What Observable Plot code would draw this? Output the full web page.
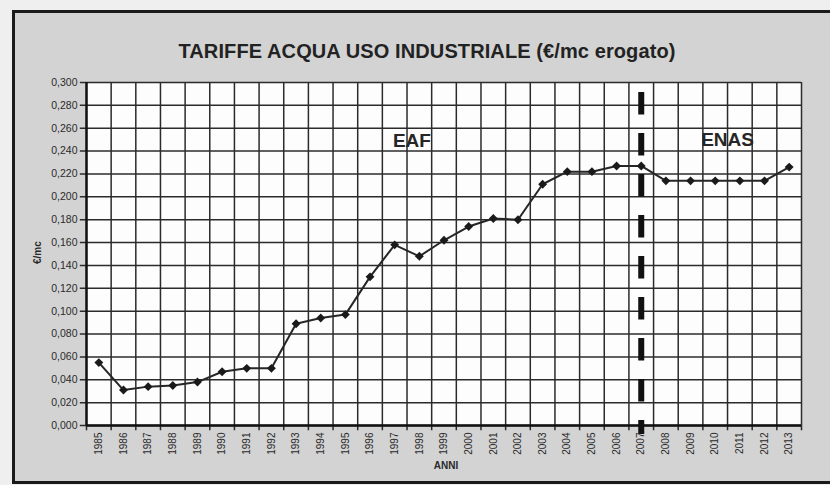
<!DOCTYPE html>
<html><head><meta charset="utf-8">
<script src="https://cdn.jsdelivr.net/npm/d3@7"></script>
<script src="https://cdn.jsdelivr.net/npm/@observablehq/plot@0.6"></script>
<style>
html,body{margin:0;padding:0;background:#efefef;width:830px;height:485px;overflow:hidden;}
#box{position:absolute;left:12px;top:10px;width:824px;height:468px;border:3px solid #1a1a1a;border-right:none;background:#d3d3d3;font-family:"Liberation Sans",Arial,sans-serif;}
#title{height:29px;padding-top:28px;text-align:center;font-size:20px;font-weight:bold;color:#222;line-height:20px;letter-spacing:0.1px;}
#chart svg{display:block;}
</style>
</head><body>
<div id="box"><div id="title">TARIFFE ACQUA USO INDUSTRIALE (€/mc erogato)</div><div id="chart"></div></div>
<script>
const years = [1985,1986,1987,1988,1989,1990,1991,1992,1993,1994,1995,1996,1997,1998,1999,2000,2001,2002,2003,2004,2005,2006,2007,2008,2009,2010,2011,2012,2013];
const values = [0.055,0.031,0.034,0.035,0.038,0.047,0.050,0.050,0.089,0.094,0.097,0.130,0.158,0.148,0.162,0.174,0.181,0.180,0.211,0.222,0.222,0.227,0.227,0.214,0.214,0.214,0.214,0.214,0.226];
const yTicks = [0,0.02,0.04,0.06,0.08,0.10,0.12,0.14,0.16,0.18,0.20,0.22,0.24,0.26,0.28,0.30];
const dividerYear = [2007];
const annotLabels = ["EAF","ENAS"];
const annotX = [1997.7,2010.5];
const annotY = [0.249,0.250];

const data = years.map((y,i)=>({year:y,value:values[i]}));
const annots = annotLabels.map((t,i)=>({text:t,x:annotX[i],y:annotY[i]}));
const x0 = years[0]-0.5, x1 = years[years.length-1]+0.5;
const bounds = d3.range(x0, x1+0.01, 1);
const fmt = d => d.toFixed(3).replace(".", ",");

const chart = Plot.plot({
  width: 815, height: 411,
  marginLeft: 71, marginRight: 29, marginTop: 12, marginBottom: 56,
  style: {fontFamily: '"Liberation Sans", Arial, sans-serif', color: "#2a2a2a", background: "transparent", overflow: "visible"},
  x: {domain: [x0, x1]},
  y: {domain: [0, 0.3]},
  marks: [
    Plot.frame({fill: "#fdfdfd", stroke: "none"}),
    Plot.ruleY(yTicks, {x1: x0 - 0.25, x2: x1, stroke: "#2b2b2b", strokeWidth: 1.5}),
    Plot.ruleX(bounds, {y1: -0.0045, y2: 0.3, stroke: "#2b2b2b", strokeWidth: 1.5}),
    Plot.ruleX([x0], {y1: 0, y2: 0.3, stroke: "#111", strokeWidth: 2.4}),
    Plot.ruleY([0], {x1: x0, x2: x1, stroke: "#111", strokeWidth: 2.4}),
    Plot.axisY({ticks: yTicks, tickFormat: fmt, tickSize: 0, tickPadding: 9, fontSize: 10.5, label: null}),
    Plot.axisX({ticks: years, tickFormat: d => String(d), tickRotate: -90, tickSize: 0, tickPadding: 7, fontSize: 10, label: null}),
    Plot.text(["ANNI"], {frameAnchor: "bottom", dy: 43, dx: 2, fontSize: 10, fontWeight: "bold", fill: "#2a2a2a"}),
    Plot.text(["€/mc"], {frameAnchor: "left", dx: -49, dy: 10, rotate: -90, fontSize: 10, fontWeight: "bold", fill: "#2a2a2a"}),
    Plot.ruleX(dividerYear, {y1: 0.2913, y2: -0.0079, stroke: "#111", strokeWidth: 6, strokeDasharray: "22.5,18.5", clip: false}),
    Plot.line(data, {x: "year", y: "value", stroke: "#262626", strokeWidth: 2}),
    Plot.dot(data, {x: "year", y: "value", symbol: "diamond2", r: 4, fill: "#1a1a1a", stroke: "none"}),
    Plot.text(annots, {x: "x", y: "y", text: "text", fontSize: 19, fontWeight: "bold", fill: "#262626"})
  ]
});
document.getElementById("chart").appendChild(chart);
</script>
</body></html>
